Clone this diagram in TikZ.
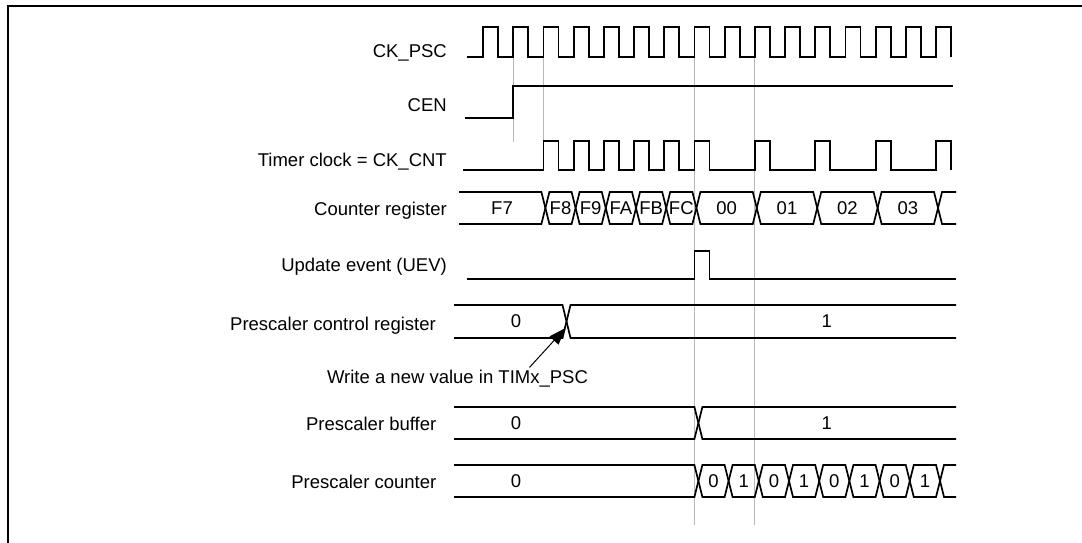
\documentclass[tikz,border=0pt]{standalone}
\usepackage{fontspec}
\setmainfont{Liberation Sans}
\usepackage{tikz}
\usetikzlibrary{arrows.meta}
\newcommand{\busstart}[4]{\draw[bus] (#1,#3) -- ({#2-4},#3) -- (#2,{(#3+#4)/2})
  (#1,#4) -- ({#2-4},#4) -- (#2,{(#3+#4)/2});}
\newcommand{\busseg}[4]{\draw[bus] (#1,{(#3+#4)/2}) -- ({#1+4},#3) -- ({#2-4},#3) -- (#2,{(#3+#4)/2})
  (#1,{(#3+#4)/2}) -- ({#1+4},#4) -- ({#2-4},#4) -- (#2,{(#3+#4)/2});}
\newcommand{\busend}[4]{\draw[bus] (#1,{(#3+#4)/2}) -- ({#1+4},#3) -- (#2,#3)
  (#1,{(#3+#4)/2}) -- ({#1+4},#4) -- (#2,#4);}

\begin{document}
\begin{tikzpicture}[
  x=1pt, y=-1pt,
  font=\fontsize{18.5}{22}\selectfont,
  sig/.style={line width=1.8pt, line join=miter},
  bus/.style={line width=1.7pt, line join=miter},
  guide/.style={black!28, line width=0.9pt},
  frame/.style={line width=2pt},
  lab/.style={anchor=base east, inner sep=0pt},
  val/.style={inner sep=0pt},
  note/.style={anchor=base, inner sep=2pt},
  wr/.style={line width=1pt, -{Triangle[length=17pt,width=12pt]}}]

\useasboundingbox (0,0) rectangle (1082,543);
\draw[frame] (7.7,543) -- (7.7,5.7) -- (1082,5.7);

\def\tA{513.2}\def\tB{543.4}\def\tC{694.4}\def\tD{754.8}
\draw[guide] (\tA,57) -- (\tA,142);
\draw[guide] (\tB,57) -- (\tB,141);
\draw[guide] (\tC,57) -- (\tC,525);
\draw[guide] (\tD,57) -- (\tD,525);

\node[lab] (ckpsc) at (447,57.3) {CK\_PSC};
\draw[sig] (467,57) \foreach \k in {0,...,15}{
  -- ({483+30.2*\k},57) -- ({483+30.2*\k},27) -- ({498.1+30.2*\k},27) -- ({498.1+30.2*\k},57)};

\node[lab] (cen) at (447,111.7) {CEN};
\draw[sig] (465,118) -- (\tA,118) -- (\tA,86) -- (953,86);

\node[lab] (tclk) at (447,166) {Timer clock = CK\_CNT};
\draw[sig] (463,170) \foreach \k in {2,3,4,5,6,7,9,11,13,15}{
  -- ({483+30.2*\k},170) -- ({483+30.2*\k},141) -- ({498.1+30.2*\k},141) -- ({498.1+30.2*\k},170)};

\node[lab] (cnt) at (447,215) {Counter register};
\busstart{459}{545.4}{192}{224}
\foreach \a/\b in {545.4/575.6, 575.6/605.8, 605.8/636, 636/666.2, 666.2/696.4,
  696.4/756.8, 756.8/817.2, 817.2/877.6, 877.6/938}{\busseg{\a}{\b}{192}{224}}
\busend{938}{956}{192}{224}
\foreach \x/\v [count=\i] in {502/F7, 560.5/F8, 590.7/F9, 620.9/FA, 651.1/FB, 681.3/FC,
  726.6/00, 787/01, 847.4/02, 907.8/03}{\node[val] (cnt-\i) at (\x,208) {\v};}

\node[lab] (uev) at (447,271.5) {Update event (UEV)};
\draw[sig] (467,279) -- (\tC,279) -- (\tC,251) -- (709.5,251) -- (709.5,279) -- (956,279);

\node[lab] (pcr) at (436,330) {Prescaler control register};
\busstart{454}{566.5}{305}{338}
\busend{566.5}{956}{305}{338}
\node[val] (pcr-0) at (516,321.5) {0};
\node[val] (pcr-1) at (826.7,321.5) {1};

\node[note] (wnote) at (457.5,383) {Write a new value in TIMx\_PSC};
\coordinate (pcrx) at (565.5,328);
\draw[wr] ([xshift=72pt]wnote.north) -- (pcrx);

\node[lab] (pbuf) at (436.5,430) {Prescaler buffer};
\busstart{454}{698.4}{407}{439}
\busend{698.4}{956}{407}{439}
\node[val] (pbuf-0) at (516,423) {0};
\node[val] (pbuf-1) at (826.7,423) {1};

\node[lab] (pcnt) at (436.5,488) {Prescaler counter};
\busstart{454}{698.4}{465}{497}
\foreach \a/\b in {698.4/728.6, 728.6/758.8, 758.8/789, 789/819.2, 819.2/849.4,
  849.4/879.6, 879.6/909.8, 909.8/940}{\busseg{\a}{\b}{465}{497}}
\busend{940}{956}{465}{497}
\foreach \x/\v [count=\i] in {516/0, 713.5/0, 743.7/1, 773.9/0, 804.1/1, 834.3/0,
  864.5/1, 894.7/0, 924.9/1}{\node[val] (pcnt-\i) at (\x,481) {\v};}
\end{tikzpicture}
\end{document}
